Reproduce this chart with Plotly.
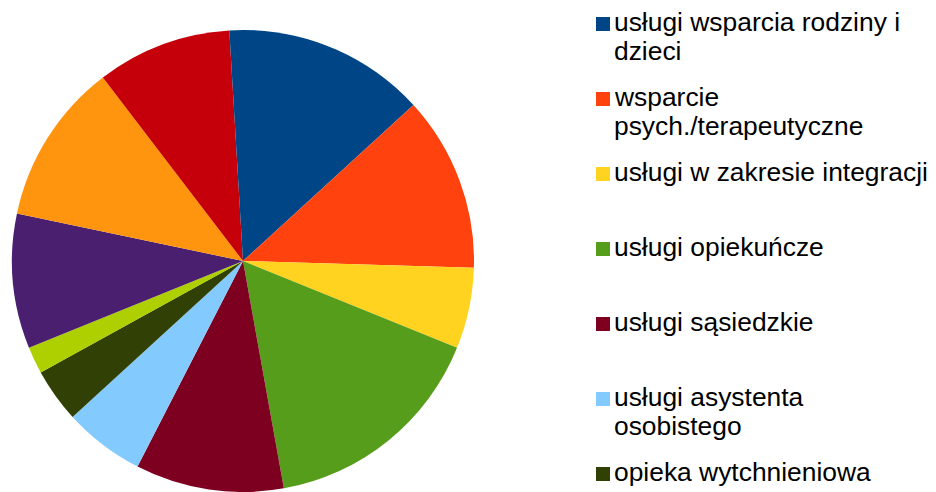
import plotly.graph_objects as go

# ---- data ----
labels = [
    "usługi wsparcia rodziny i dzieci",
    "wsparcie psych./terapeutyczne",
    "usługi w zakresie integracji",
    "usługi opiekuńcze",
    "usługi sąsiedzkie",
    "usługi asystenta osobistego",
    "opieka wytchnieniowa",
    "usługi transportowe",
    "usługi edukacyjne",
    "usługi zdrowotne",
    "usługi doradcze",
    "inne",
]
# legend labels as they are wrapped in the reference
legend_lines = [
    ["usługi wsparcia rodziny i", "dzieci"],
    ["wsparcie", "psych./terapeutyczne"],
    ["usługi w zakresie integracji"],
    ["usługi opiekuńcze"],
    ["usługi sąsiedzkie"],
    ["usługi asystenta", "osobistego"],
    ["opieka wytchnieniowa"],
    ["usługi transportowe"],
    ["usługi edukacyjne"],
    ["usługi zdrowotne"],
    ["usługi doradcze"],
    ["inne"],
]
values = [14, 13, 6, 17, 11, 6, 4, 2, 10, 12, 10, 1]
colors = [
    "#004586", "#ff420e", "#ffd320", "#579d1c", "#7e0021", "#83caff",
    "#314004", "#aecf00", "#4b1f6f", "#ff950e", "#c5000b", "#004586",
]

# ---- layout constants ----
W, H = 936, 492
FONT = "Liberation Sans, Arial, sans-serif"
FS = 26.4


def py(px):
    return 1 - px / H


def pxx(px):
    return px / W


fig = go.Figure(
    go.Pie(
        labels=labels,
        values=values,
        sort=False,
        direction="clockwise",
        rotation=0,
        marker=dict(colors=colors, line=dict(width=0)),
        textinfo="none",
        hoverinfo="label+value+percent",
        showlegend=False,
        domain=dict(x=[pxx(12), pxx(474)], y=[0, py(30)]),
    )
)

shapes = []
annotations = []
first_baseline = 31
step = 75
line_gap = 29
for i, lines in enumerate(legend_lines):
    base = first_baseline + i * step
    sq_top = base - 14
    if sq_top + 14 > H:
        break
    shapes.append(dict(
        type="rect", xref="paper", yref="paper",
        x0=pxx(596), x1=pxx(610), y0=py(sq_top + 14), y1=py(sq_top),
        fillcolor=colors[i], line=dict(width=0),
    ))
    for j, t in enumerate(lines):
        b = base + j * line_gap
        annotations.append(dict(
            text=t, xref="paper", yref="paper",
            x=pxx(612), y=py(b - 9), xanchor="left", yanchor="middle",
            showarrow=False, font=dict(family=FONT, size=FS, color="#000000"),
        ))

fig.update_layout(
    width=W, height=H,
    margin=dict(l=0, r=0, t=0, b=0),
    paper_bgcolor="white", plot_bgcolor="white",
    shapes=shapes, annotations=annotations,
    showlegend=False,
)

fig.write_html(
    "out.html",
    config={"displayModeBar": False},
    post_script="document.body.style.margin='0px';document.body.style.overflow='hidden';",
)
